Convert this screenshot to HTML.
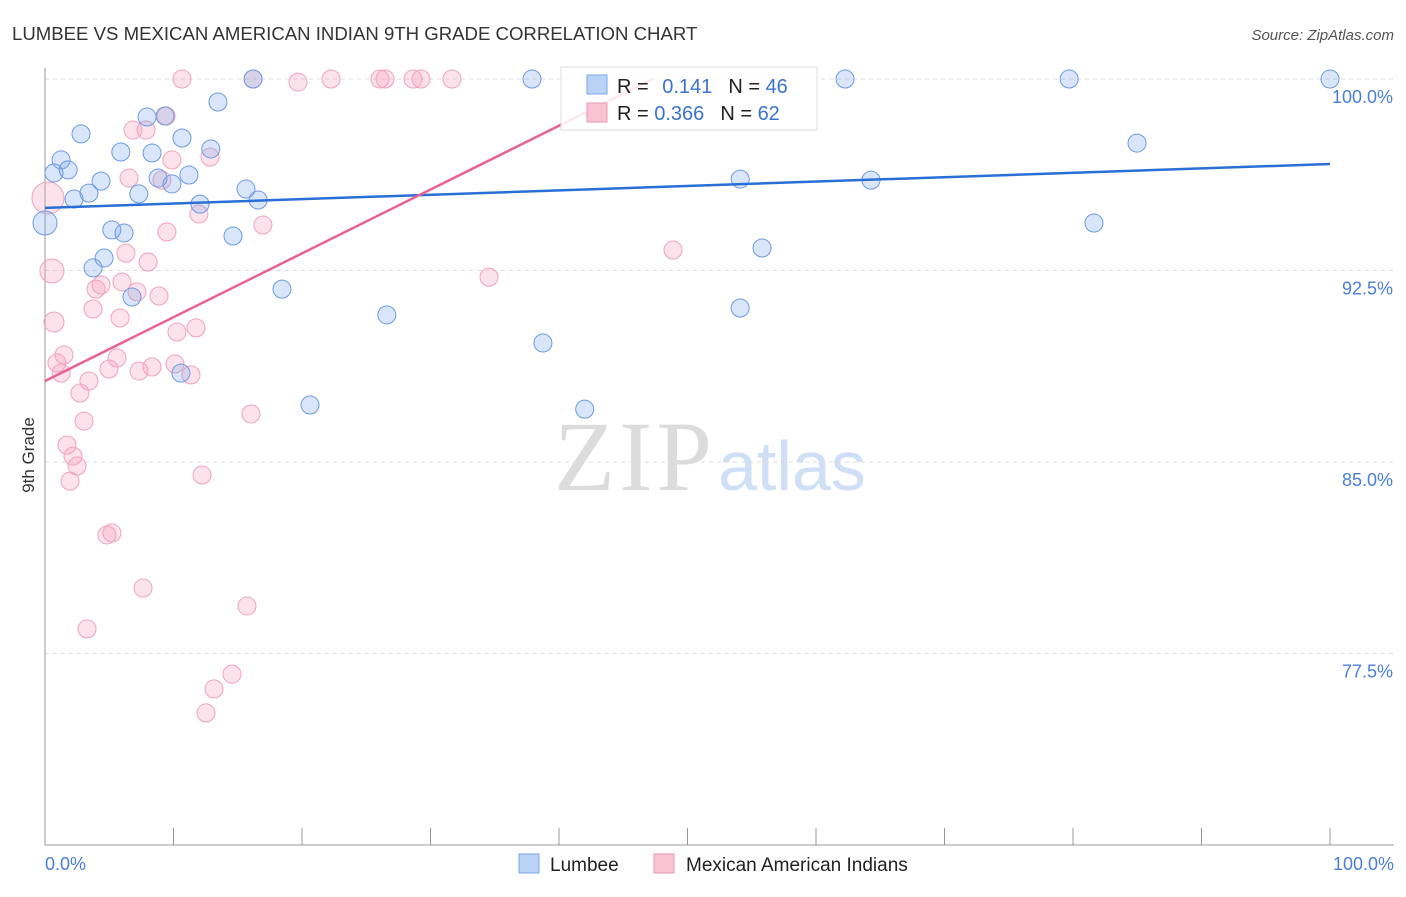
<!DOCTYPE html>
<html><head><meta charset="utf-8"><style>
body{margin:0;background:#fff;font-family:"Liberation Sans",sans-serif}
</style></head><body>
<svg width="1406" height="892" font-family="Liberation Sans, sans-serif">
<text x="12" y="40" font-size="18.6" fill="#333">LUMBEE VS MEXICAN AMERICAN INDIAN 9TH GRADE CORRELATION CHART</text>
<text x="1394" y="40" font-size="15" fill="#555" font-style="italic" text-anchor="end">Source: ZipAtlas.com</text>
<text x="712" y="490" font-size="100" fill="#dcdcdc" style="font-family:'Liberation Serif',serif" text-anchor="end" textLength="158">ZIP</text>
<text x="718" y="490" font-size="70" fill="#cfdff5">atlas</text>
<g id="grid"></g><g id="axes"></g><g id="pts"></g><g id="lines"></g>
<text transform="translate(34,455) rotate(-90)" font-size="17" fill="#333" text-anchor="middle">9th Grade</text>
<text x="45" y="870" font-size="18" fill="#4a7fd6">0.0%</text>
<text x="1394" y="870" font-size="18" fill="#4a7fd6" text-anchor="end">100.0%</text>
<g>
<rect x="561" y="67" width="256" height="63" fill="#fff" fill-opacity="0.85" stroke="#ddd"/>
<rect x="587" y="75" width="20" height="19" fill="#b9d2f5" stroke="#7aa6e8"/>
<rect x="587" y="103" width="20" height="19" fill="#f9c3d3" stroke="#ec97b2"/>
<text x="617" y="93" font-size="20" fill="#222">R = <tspan fill="#3b73cc" dx="8">0.141</tspan><tspan dx="16">N = </tspan><tspan fill="#3b73cc">46</tspan></text>
<text x="617" y="120" font-size="20" fill="#222">R = <tspan fill="#3b73cc">0.366</tspan><tspan dx="16">N = </tspan><tspan fill="#3b73cc">62</tspan></text>
</g>
<g>
<rect x="519" y="854" width="20" height="19" fill="#b9d2f5" stroke="#7aa6e8"/>
<text x="550" y="871" font-size="19" fill="#222">Lumbee</text>
<rect x="654" y="854" width="20" height="19" fill="#f9c3d3" stroke="#ec97b2"/>
<text x="686" y="871" font-size="19" fill="#222">Mexican American Indians</text>
</g>
</svg>
<script>
const yTicks=[100,92.5,85,77.5];
const yTickLabels=["100.0%","92.5%","85.0%","77.5%"];
const blueX=[0,0.7,1.25,1.8,2.26,2.8,3.42,3.74,4.36,4.6,5.2,5.9,6.15,6.77,7.3,7.94,8.33,8.8,9.34,9.88,10.66,10.58,11.2,12.06,12.9,13.46,14.63,15.64,16.19,16.58,18.44,20.62,26.6,37.9,38.75,42.0,54.1,54.1,55.8,62.26,64.28,79.7,81.63,84.98,100];
const blueY=[94.36,96.32,96.83,96.44,95.3,97.85,95.53,92.6,96.0,92.99,94.09,97.14,93.97,91.46,95.5,98.51,97.1,96.12,98.55,95.89,97.69,88.48,96.24,95.1,97.26,99.1,93.85,95.69,100,95.26,91.77,87.23,90.76,100,89.66,87.07,96.08,91.03,93.38,100,96.04,100,94.36,97.49,100];
const pinkX=[0.23,0.54,0.7,0.93,1.25,1.48,1.71,1.95,2.18,2.49,2.72,3.04,3.27,3.42,3.74,3.97,4.36,4.82,5.21,4.98,5.6,5.84,5.99,6.3,6.54,6.85,7.16,7.32,7.63,7.86,8.02,8.33,8.87,9.1,9.42,9.49,9.88,10.12,10.27,10.66,11.36,11.75,11.98,12.22,12.53,12.84,13.15,14.55,15.72,16.03,16.19,16.96,19.69,22.26,26.07,26.46,28.64,29.26,31.67,34.55,48.87];
const pinkY=[95.34,92.48,90.48,88.88,88.48,89.19,85.66,84.25,85.23,84.84,87.7,86.6,78.46,88.17,90.99,91.77,91.93,82.14,82.22,88.64,89.07,90.64,92.05,93.18,96.12,98.0,91.66,88.56,80.06,98.0,92.83,88.72,91.5,96.04,98.55,94.01,96.83,88.84,90.09,100,88.41,90.25,94.71,84.49,75.17,96.94,76.11,76.69,79.36,86.88,100,94.28,99.88,100,100,100,100,100,100,92.24,93.3];
const blueTrend=[94.95,96.67];
const pinkTrend=[88.17,0.25];
const X=v=>45+v*12.85, Y=v=>79+(100-v)*25.53;
const NS="http://www.w3.org/2000/svg";
function mk(t,a,p){const e=document.createElementNS(NS,t);for(const k in a)e.setAttribute(k,a[k]);p.appendChild(e);return e;}
const grid=document.getElementById('grid');
yTicks.forEach((t,i)=>{
 const l=mk('line',{x1:45,x2:1394,y1:Y(t),y2:Y(t),stroke:'#ddd','stroke-dasharray':'4,4'},grid);
 
 
 const tx=mk('text',{x:1393,y:Y(t)+24,'font-size':18,fill:'#4a7fd6','text-anchor':'end'},grid);
 tx.textContent=yTickLabels[i];
 
 
});
const ax=document.getElementById('axes');
const ya=mk('line',{x1:45,x2:45,y1:68,y2:845,stroke:'#999'},ax);


const xa=mk('line',{x1:45,x2:1394,y1:845,y2:845,stroke:'#999'},ax);


for(let i=0;i<=10;i++){const t=mk('line',{x1:X(i*10),x2:X(i*10),y1:828,y2:845,stroke:'#999'},ax);
 
 }
const pts=document.getElementById('pts');
function dots(xs,ys,fill,stroke,name){xs.forEach((x,i)=>{
 let r=9; if(name==='pink-point'&&i===0)r=16; if(name==='pink-point'&&i===1)r=12; if(name==='pink-point'&&i===2)r=10; if(name==='blue-point'&&i===0)r=12;
 const c=mk('circle',{cx:X(x),cy:Y(ys[i]),r:r,fill:fill,stroke:stroke,'stroke-width':1},pts);
 
 });}
dots(pinkX,pinkY,'rgba(244,160,188,0.3)','#efa3bc','pink-point');
dots(blueX,blueY,'rgba(120,165,235,0.28)','#6d9be3','blue-point');
const lines=document.getElementById('lines');
const bl=mk('line',{x1:X(0),y1:Y(blueTrend[0]),x2:X(100),y2:Y(blueTrend[1]),stroke:'#2a6fd6','stroke-width':2.5},lines);


const xe=(100-pinkTrend[0])/pinkTrend[1];
const pl=mk('line',{x1:X(0),y1:Y(pinkTrend[0]),x2:X(xe),y2:Y(100),stroke:'#e8638f','stroke-width':2.5},lines);


</script>
</body></html>
